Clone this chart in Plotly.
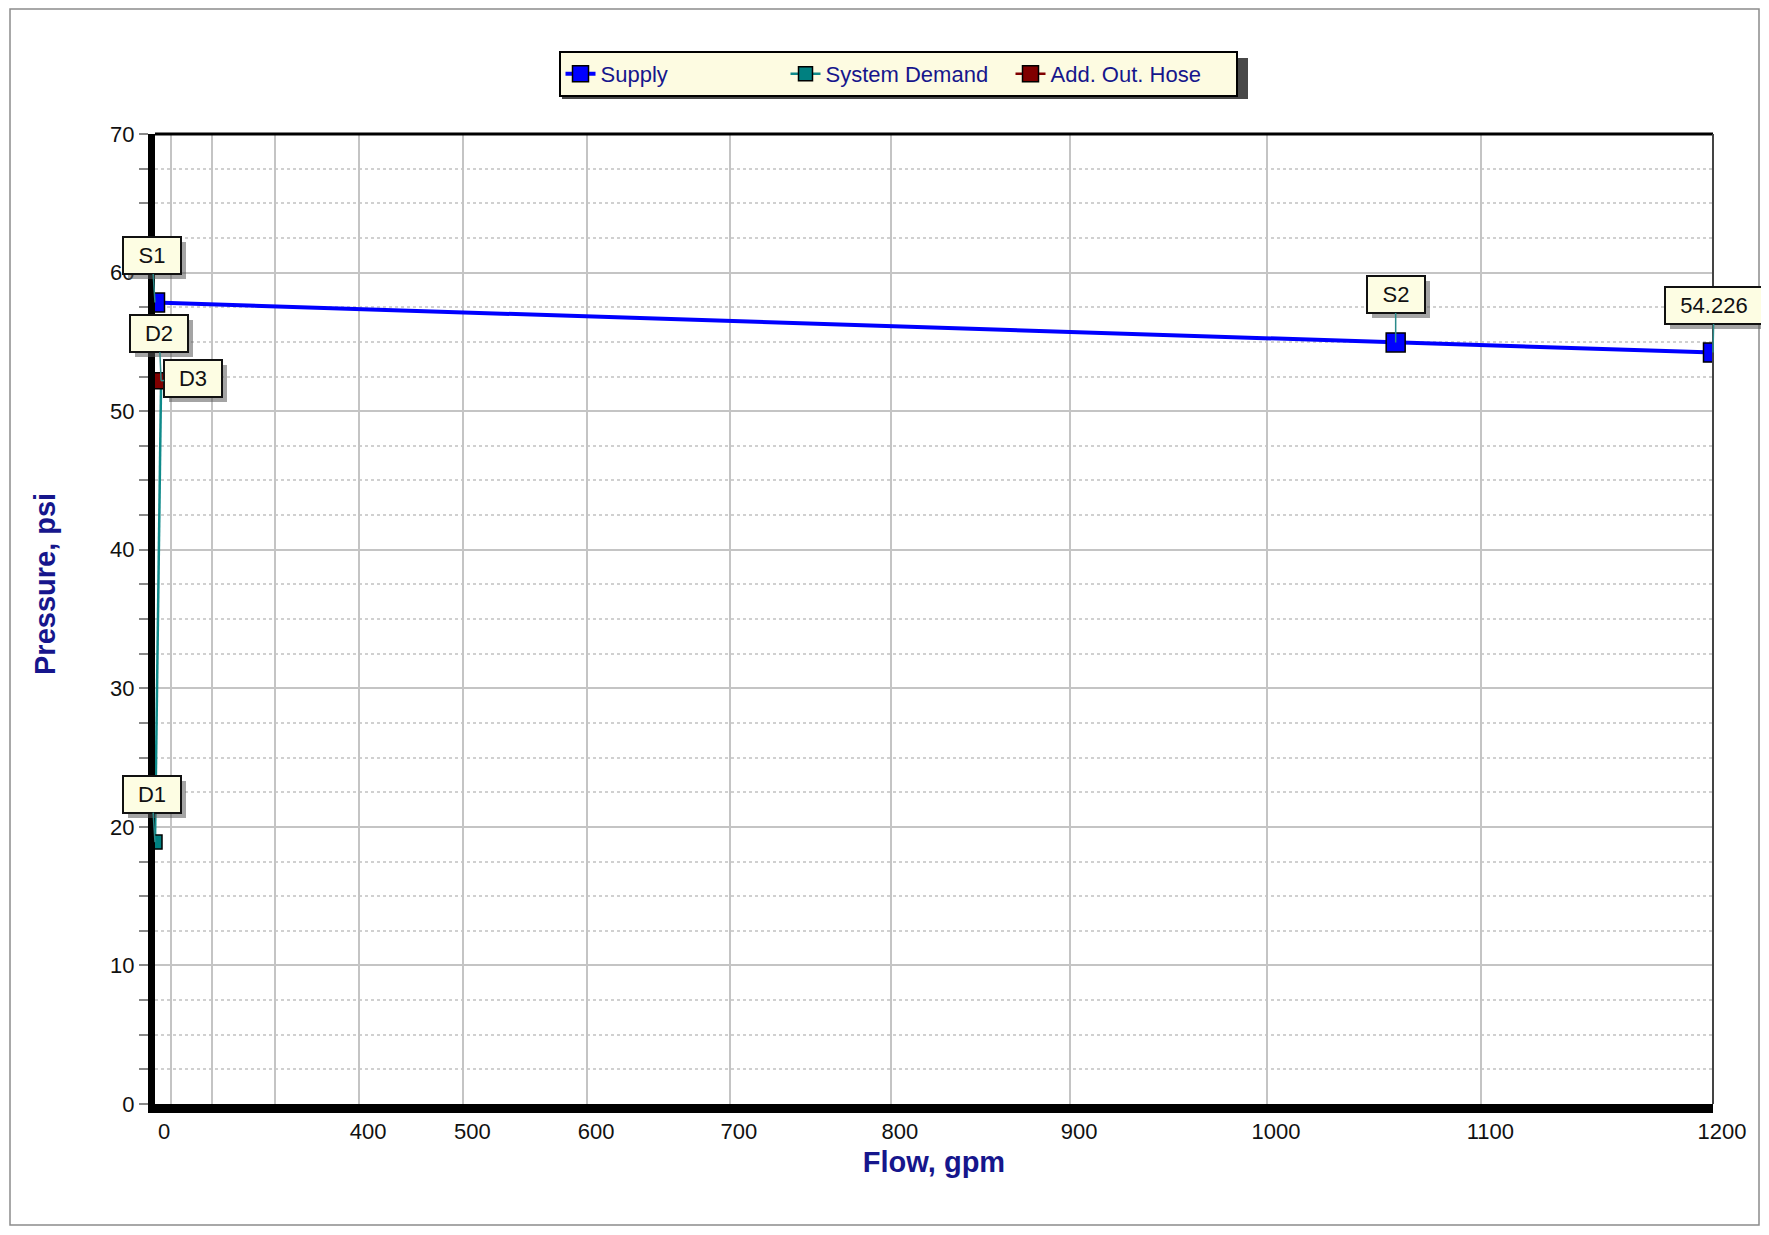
import plotly.graph_objects as go

# ---------------- data ----------------
EXP = 1.85  # hydraulic graph paper: flow axis scaled as Q^1.85
supply_flow = [0, 1061, 1200]
supply_pressure = [57.84, 54.96, 54.226]
demand_flow = [0, 60]
demand_pressure = [18.9, 52.2]
hose_flow = [60]
hose_pressure = [52.2]

x_tick_flows = [0, 100, 200, 300, 400, 500, 600, 700, 800, 900, 1000, 1100, 1200]
x_tick_labels = ["0", "", "", "", "400", "500", "600", "700", "800", "900", "1000", "1100", "1200"]

# point labels
labels_text = ["S1", "S2", "54.226", "D1", "D2", "D3"]
labels_flow = [supply_flow[0], supply_flow[1], supply_flow[2], demand_flow[0], demand_flow[1], hose_flow[0]]
labels_pressure = [supply_pressure[0], supply_pressure[1], supply_pressure[2],
                   demand_pressure[0], demand_pressure[1], hose_pressure[0]]
labels_dx = [-3, 0, 1, -3, -2, 32]
labels_dy = [-47, -48, -47, -48, -47, -2]
labels_w = [46, 46, 86, 46, 46, 46]


def tx(q):
    return [v ** EXP for v in q]


NAVY = "#16168c"
FONT = "Liberation Sans, Arial, sans-serif"

fig = go.Figure()
fig.add_trace(go.Scatter(
    x=tx(supply_flow), y=supply_pressure, mode="lines+markers", name="Supply",
    line=dict(color="#0000ff", width=4),
    marker=dict(symbol="square", size=19, color="#0000ff", line=dict(color="black", width=1.5)),
))
fig.add_trace(go.Scatter(
    x=tx(demand_flow), y=demand_pressure, mode="lines+markers", name="System Demand",
    line=dict(color="#0e8a8a", width=2.5),
    marker=dict(symbol="square", size=14, color="#008080", line=dict(color="black", width=1.5)),
))
fig.add_trace(go.Scatter(
    x=tx(hose_flow), y=hose_pressure, mode="lines+markers", name="Add. Out. Hose",
    line=dict(color="#800000", width=2.5),
    marker=dict(symbol="square", size=16, color="#800000", line=dict(color="black", width=1.5)),
))

OFF = 8  # page body margin
W, H = 1769 - 2 * OFF, 1235 - 2 * OFF
L, T = 155 - OFF, 134 - OFF
R = OFF + W - 1713
B = OFF + H - 1104
pw, ph = W - L - R, H - T - B


def px_to_paper_x(px):
    return (px - OFF - L) / pw


def px_to_paper_y(py):
    return (OFF + H - B - py) / ph


annotations = []
for t, q, p, dx, dy, w in zip(labels_text, labels_flow, labels_pressure, labels_dx, labels_dy, labels_w):
    # shadow
    annotations.append(dict(
        x=q ** EXP, y=p, xref="x", yref="y", text=t, showarrow=True,
        arrowcolor="rgba(0,0,0,0)", ax=dx, ay=dy, xshift=5, yshift=-5, width=w,
        font=dict(family=FONT, size=22, color="rgba(110,110,110,0)"),
        bgcolor="rgba(90,90,90,0.55)", bordercolor="rgba(90,90,90,0)", borderwidth=2,
        borderpad=5,
    ))
    annotations.append(dict(
        x=q ** EXP, y=p, xref="x", yref="y", text=t, showarrow=True,
        arrowhead=0, arrowwidth=1.5, arrowcolor="#2a8a8a", ax=dx, ay=dy, width=w,
        font=dict(family=FONT, size=22, color="#111111"),
        bgcolor="#fdfde3", bordercolor="#111111", borderwidth=2, borderpad=5,
    ))

# y-axis title (placed as in the reference, slightly above the plot's centre)
annotations.append(dict(
    text="<b>Pressure, psi</b>", textangle=-90, showarrow=False,
    xref="paper", yref="paper", x=px_to_paper_x(45), y=px_to_paper_y(584),
    xanchor="center", yanchor="middle",
    font=dict(family=FONT, size=29, color=NAVY),
))

shapes = [
    # outer frame
    dict(type="rect", xref="paper", yref="paper",
         x0=px_to_paper_x(10), x1=px_to_paper_x(1759), y0=px_to_paper_y(1225), y1=px_to_paper_y(9),
         line=dict(color="#8c8c8c", width=1.5), layer="below"),
    # legend shadow
    dict(type="rect", xref="paper", yref="paper",
         x0=px_to_paper_x(562), x1=px_to_paper_x(1248), y0=px_to_paper_y(99), y1=px_to_paper_y(58),
         fillcolor="rgba(40,40,40,0.85)", line=dict(width=0), layer="below"),
    # top border
    dict(type="line", xref="paper", yref="paper", x0=0, x1=1, y0=1, y1=1,
         line=dict(color="black", width=3)),
    # right border
    dict(type="line", xref="paper", yref="paper", x0=1, x1=1, y0=0, y1=1,
         line=dict(color="#444444", width=2)),
]

fig.update_layout(
    width=W, height=H,
    margin=dict(l=L, r=R, t=T, b=B),
    paper_bgcolor="white", plot_bgcolor="white",
    font=dict(family=FONT, size=22, color="#111111"),
    showlegend=True,
    legend=dict(
        orientation="h", xref="container", yref="container",
        x=(898 - OFF) / W, xanchor="center", y=1 - (51 - OFF) / H, yanchor="top",
        bgcolor="#fdfbe1", bordercolor="black", borderwidth=2,
        font=dict(family=FONT, size=22, color=NAVY),
        entrywidth=180, entrywidthmode="pixels",
        itemclick=False, itemdoubleclick=False,
    ),
    xaxis=dict(
        range=[0, 1200 ** EXP], tickmode="array",
        tickvals=tx(x_tick_flows), ticktext=x_tick_labels,
        showgrid=True, gridcolor="#c4c4c4", gridwidth=2,
        showline=True, linecolor="black", linewidth=9,
        ticks="", ticklabelshift=9,
        tickfont=dict(family=FONT, size=22, color="#111111"),
        zeroline=False,
        title=dict(text="<b>Flow, gpm</b>", font=dict(family=FONT, size=29, color=NAVY), standoff=12),
    ),
    yaxis=dict(
        range=[0, 70], dtick=10, tick0=0,
        showgrid=True, gridcolor="#c4c4c4", gridwidth=2,
        showline=True, linecolor="black", linewidth=7,
        ticks="outside", ticklen=9, tickcolor="#888888", tickwidth=2,
        minor=dict(dtick=2.5, showgrid=True, gridcolor="#d0d0d0", griddash="dot", gridwidth=2,
                   ticks="outside", ticklen=9, tickcolor="#888888", tickwidth=2),
        tickfont=dict(family=FONT, size=22, color="#111111"),
        zeroline=False,
    ),
    annotations=annotations,
    shapes=shapes,
)

fig.write_html("out.html")
